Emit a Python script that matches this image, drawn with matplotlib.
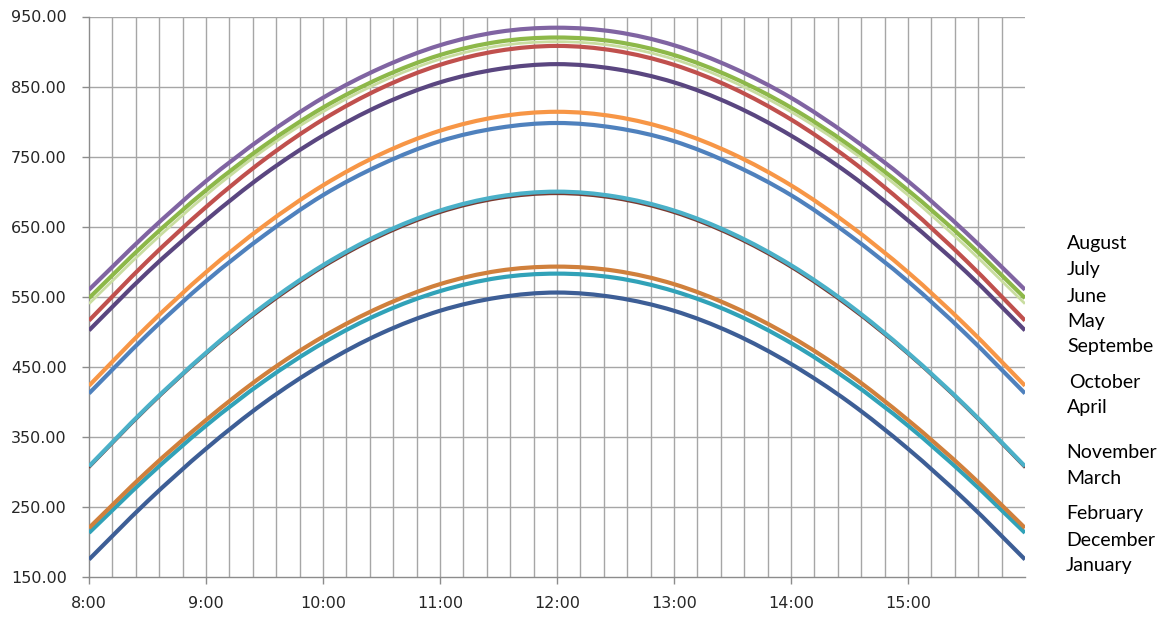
import numpy as np
import matplotlib
matplotlib.use('Agg')
import matplotlib.pyplot as plt
from matplotlib.path import Path
from matplotlib.patches import PathPatch

# half-hour readings, 8:00 .. 16:00
hours = [8.0, 8.5, 9.0, 9.5, 10.0, 10.5, 11.0, 11.5, 12.0,
         12.5, 13.0, 13.5, 14.0, 14.5, 15.0, 15.5, 16.0]

august = [560, 641, 715, 779, 834, 877, 909, 928, 934, 928, 909, 877, 834, 779, 715, 641, 560]
july = [548, 629, 702, 766, 820, 863, 895, 914, 920, 914, 895, 863, 820, 766, 702, 629, 548]
june = [540, 621, 695, 760, 814, 857, 889, 908, 914, 908, 889, 857, 814, 760, 695, 621, 540]
may = [516, 601, 678, 746, 803, 848, 881, 901, 908, 901, 881, 848, 803, 746, 678, 601, 516]
september = [502, 585, 659, 725, 780, 824, 856, 875, 882, 875, 856, 824, 780, 725, 659, 585, 502]
october = [423, 508, 585, 652, 709, 754, 787, 807, 814, 807, 787, 754, 709, 652, 585, 508, 423]
april = [412, 496, 572, 638, 695, 739, 772, 791, 798, 791, 772, 739, 695, 638, 572, 496, 412]
november = [308, 393, 470, 538, 595, 640, 673, 693, 700, 693, 673, 640, 595, 538, 470, 393, 308]
march = [306, 391, 468, 535, 592, 637, 670, 690, 697, 690, 670, 637, 592, 535, 468, 391, 306]
february = [220, 301, 374, 439, 493, 536, 568, 587, 593, 587, 568, 536, 493, 439, 374, 301, 220]
december = [213, 293, 366, 430, 484, 527, 558, 577, 583, 577, 558, 527, 484, 430, 366, 293, 213]
january = [175, 258, 333, 399, 454, 498, 530, 549, 556, 549, 530, 498, 454, 399, 333, 258, 175]

tick_hours = [8, 9, 10, 11, 12, 13, 14, 15]
tick_labels = ['8:00', '9:00', '10:00', '11:00', '12:00', '13:00', '14:00', '15:00']
y_ticks = [150, 250, 350, 450, 550, 650, 750, 850, 950]

month_names = ['August', 'July', 'June', 'May', 'Septembe', 'October', 'April',
               'November', 'March', 'February', 'December', 'January']

# drawn bottom-up so the upper lines in each pair sit on top
series = [
    (january, '#3D5E96', 3.0),
    (december, '#31A2B8', 3.0),
    (february, '#D0803C', 3.0),
    (march, '#7A3A30', 2.0),
    (november, '#4BB0C8', 3.0),
    (april, '#4F81BD', 3.0),
    (october, '#F79646', 3.0),
    (september, '#5A4680', 3.0),
    (may, '#C0504D', 3.0),
    (june, '#C9DDA0', 2.0),
    (july, '#8DB849', 3.0),
    (august, '#8064A2', 3.0),
]


def smooth_path(xs, ys):
    # Excel style smoothed line: cubic bezier through every point
    pts = np.column_stack([xs, ys]).astype(float)
    n = len(pts)
    verts = [pts[0]]
    codes = [Path.MOVETO]
    for i in range(n - 1):
        p0 = pts[max(i - 1, 0)]
        p1 = pts[i]
        p2 = pts[i + 1]
        p3 = pts[min(i + 2, n - 1)]
        verts += [p1 + (p2 - p0) / 6.0, p2 - (p3 - p1) / 6.0, p2]
        codes += [Path.CURVE4] * 3
    return Path(verts, codes)


fig = plt.figure(figsize=(11.69, 6.19), dpi=100)
ax = fig.add_axes([89 / 1169, 1 - 577 / 619, (1025 - 89) / 1169, (577 - 16.5) / 619])

grid_col = '#A6A6A6'
for v in y_ticks[1:]:
    ax.axhline(v, color=grid_col, lw=1.0, zorder=1)
for k in range(1, 40):
    ax.axvline(8 + k * 0.2, color=grid_col, lw=1.0, zorder=1)

for vals, col, lw in series:
    patch = PathPatch(smooth_path(hours, vals), facecolor='none', edgecolor=col,
                      lw=lw, capstyle='butt', zorder=3)
    ax.add_patch(patch)

ax.set_xlim(8, 16)
ax.set_ylim(150, 950)
ax.set_xticks(tick_hours)
ax.set_xticklabels(tick_labels)
ax.set_yticks(y_ticks)
ax.set_yticklabels(['%.2f' % v for v in y_ticks])

for side in ['top', 'right']:
    ax.spines[side].set_visible(False)
for side in ['left', 'bottom']:
    ax.spines[side].set_color('#8C8C8C')
    ax.spines[side].set_linewidth(1.0)

ax.tick_params(axis='both', direction='out', length=5, width=1.0, color='#8C8C8C',
               labelsize=11.5, labelcolor='#262626')
ax.tick_params(axis='x', pad=9)
ax.tick_params(axis='y', pad=11)

label_y = [244, 270, 296, 322, 347, 383, 408, 452, 478, 514, 540, 566]
label_x = [1067, 1067, 1067, 1067, 1067, 1069, 1067, 1066, 1066, 1066, 1066, 1066]
for name, px, py in zip(month_names, label_x, label_y):
    fig.text(px / 1169, 1 - py / 619, name, fontsize=14, family=['Lato', 'DejaVu Sans'],
             color='black', ha='left', va='center')

fig.savefig('out.png', dpi=100)
